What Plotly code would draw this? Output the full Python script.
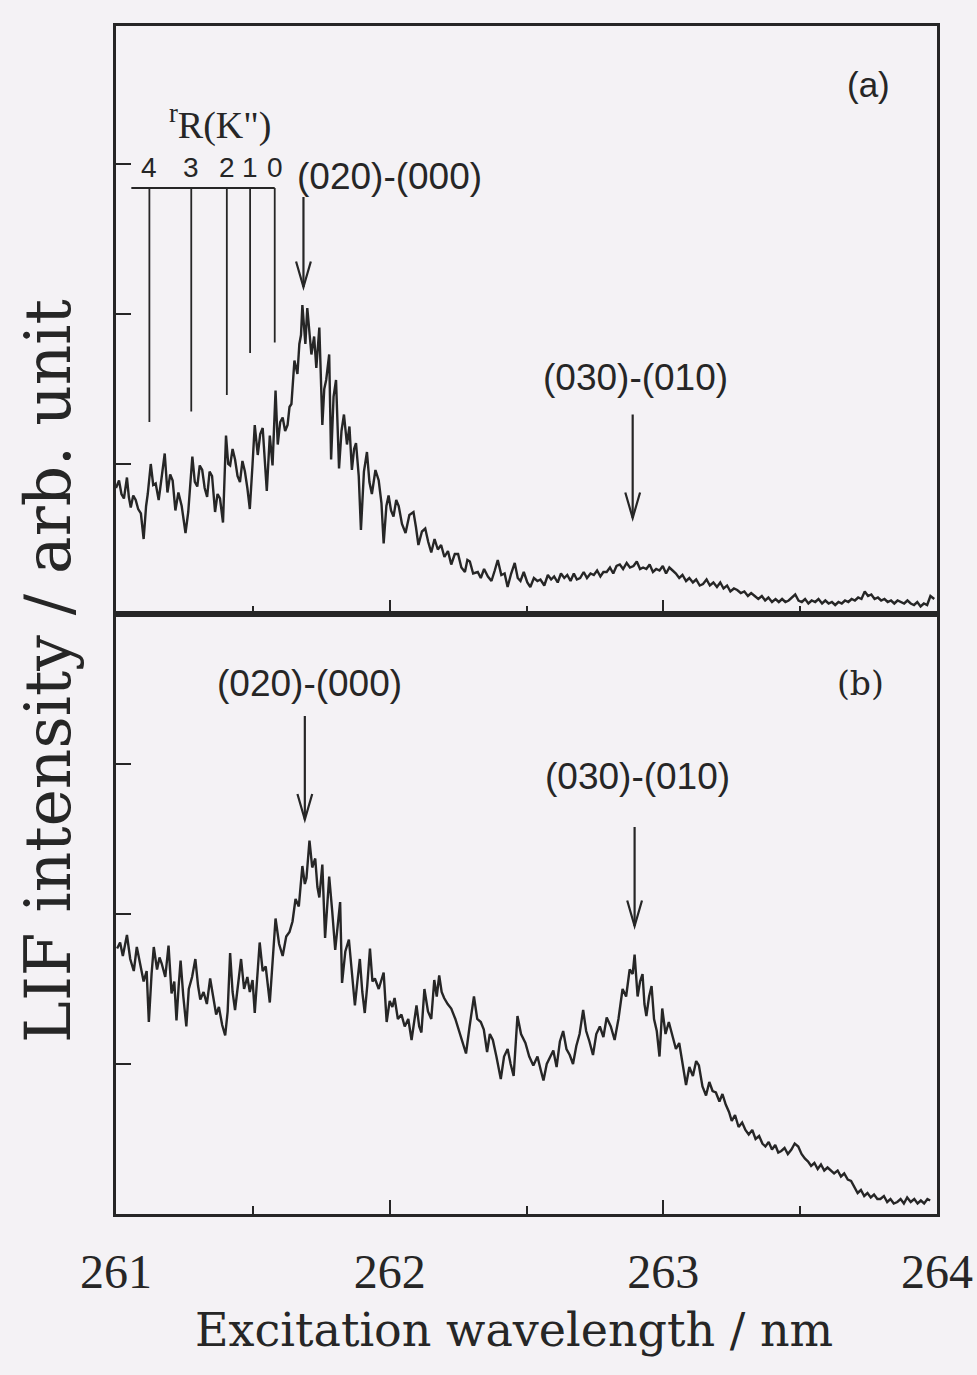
import plotly.graph_objects as go

# ---------------- data ----------------
# panel (a): wavelength (nm) and LIF intensity (arb. unit)
wl_a = [261.000, 261.011, 261.020, 261.029, 261.040, 261.047, 261.054, 261.063, 261.072, 261.081,
        261.091, 261.101, 261.110, 261.116, 261.127, 261.136, 261.145, 261.156, 261.166, 261.178,
        261.188, 261.198, 261.207, 261.217, 261.228, 261.240, 261.254, 261.264, 261.279, 261.288,
        261.297, 261.306, 261.315, 261.324, 261.333, 261.342, 261.351, 261.362, 261.371, 261.380,
        261.391, 261.402, 261.410, 261.417, 261.426, 261.435, 261.444, 261.453, 261.462, 261.471,
        261.480, 261.489, 261.499, 261.507, 261.518, 261.527, 261.536, 261.551, 261.562, 261.572,
        261.583, 261.591, 261.600, 261.609, 261.618, 261.627, 261.634, 261.641, 261.652, 261.663,
        261.670, 261.676, 261.681, 261.692, 261.699, 261.706, 261.714, 261.724, 261.732, 261.743,
        261.754, 261.761, 261.768, 261.779, 261.786, 261.795, 261.804, 261.815, 261.824, 261.833,
        261.844, 261.853, 261.862, 261.870, 261.877, 261.887, 261.895, 261.906, 261.917, 261.926,
        261.935, 261.948, 261.960, 261.970, 261.978, 261.988, 261.996, 262.005, 262.014, 262.024,
        262.033, 262.045, 262.058, 262.072, 262.087, 262.096, 262.105, 262.118, 262.130, 262.141,
        262.152, 262.164, 262.176, 262.188, 262.200, 262.213, 262.225, 262.238, 262.250, 262.262,
        262.275, 262.284, 262.293, 262.305, 262.322, 262.333, 262.345, 262.359, 262.372, 262.384,
        262.395, 262.408, 262.420, 262.431, 262.444, 262.457, 262.468, 262.478, 262.490, 262.503,
        262.514, 262.527, 262.540, 262.551, 262.565, 262.578, 262.590, 262.601, 262.614, 262.626,
        262.638, 262.649, 262.661, 262.673, 262.684, 262.696, 262.709, 262.721, 262.734, 262.746,
        262.758, 262.770, 262.781, 262.793, 262.805, 262.817, 262.829, 262.841, 262.853, 262.866,
        262.878, 262.891, 262.903, 262.915, 262.926, 262.938, 262.950, 262.962, 262.974, 262.986,
        262.998, 263.010, 263.022, 263.034, 263.046, 263.058, 263.070, 263.083, 263.095, 263.108,
        263.120, 263.133, 263.145, 263.158, 263.170, 263.183, 263.196, 263.208, 263.220, 263.233,
        263.245, 263.258, 263.270, 263.283, 263.296, 263.309, 263.321, 263.334, 263.347, 263.360,
        263.372, 263.384, 263.397, 263.410, 263.422, 263.434, 263.446, 263.458, 263.470, 263.482,
        263.494, 263.506, 263.518, 263.530, 263.542, 263.555, 263.567, 263.580, 263.592, 263.604,
        263.616, 263.628, 263.640, 263.652, 263.664, 263.676, 263.688, 263.700, 263.712, 263.724,
        263.736, 263.748, 263.760, 263.772, 263.784, 263.796, 263.808, 263.820, 263.832, 263.844,
        263.856, 263.868, 263.880, 263.892, 263.904, 263.916, 263.928, 263.940, 263.952, 263.964,
        263.976, 263.990]
int_a = [0.84, 0.89, 0.80, 0.77, 0.91, 0.78, 0.71, 0.79, 0.76, 0.70,
         0.67, 0.50, 0.72, 0.80, 1.00, 0.86, 0.87, 0.76, 0.90, 1.07,
         0.81, 0.93, 0.89, 0.69, 0.81, 0.72, 0.54, 0.68, 1.05, 0.88,
         0.85, 0.99, 0.96, 0.84, 0.78, 0.95, 0.92, 0.68, 0.80, 0.77,
         0.61, 1.19, 1.00, 0.99, 1.10, 1.03, 0.92, 0.88, 1.02, 0.95,
         0.84, 0.70, 1.00, 1.26, 1.06, 1.20, 1.24, 0.82, 1.19, 0.99,
         1.49, 1.13, 1.28, 1.31, 1.22, 1.26, 1.38, 1.40, 1.69, 1.60,
         1.80, 1.86, 2.06, 1.80, 2.04, 1.88, 1.73, 1.85, 1.64, 1.91,
         1.26, 1.50, 1.56, 1.73, 1.03, 1.45, 1.56, 0.97, 1.22, 1.33,
         1.13, 1.25, 0.96, 1.10, 1.14, 0.92, 0.56, 0.95, 1.08, 0.88,
         0.80, 0.96, 0.89, 0.74, 0.47, 0.72, 0.79, 0.69, 0.65, 0.76,
         0.72, 0.60, 0.54, 0.66, 0.68, 0.58, 0.46, 0.55, 0.57, 0.48,
         0.41, 0.50, 0.43, 0.46, 0.38, 0.42, 0.33, 0.40, 0.40, 0.31,
         0.28, 0.36, 0.35, 0.27, 0.28, 0.24, 0.30, 0.25, 0.22, 0.29,
         0.36, 0.26, 0.27, 0.18, 0.27, 0.34, 0.24, 0.22, 0.28, 0.21,
         0.18, 0.24, 0.22, 0.23, 0.19, 0.26, 0.23, 0.25, 0.21, 0.27,
         0.24, 0.26, 0.22, 0.27, 0.23, 0.24, 0.28, 0.24, 0.27, 0.26,
         0.29, 0.25, 0.28, 0.28, 0.31, 0.27, 0.32, 0.33, 0.30, 0.34,
         0.31, 0.32, 0.35, 0.30, 0.31, 0.30, 0.33, 0.28, 0.30, 0.29,
         0.32, 0.27, 0.31, 0.29, 0.27, 0.24, 0.26, 0.22, 0.24, 0.21,
         0.23, 0.19, 0.20, 0.23, 0.19, 0.21, 0.18, 0.21, 0.17, 0.19,
         0.15, 0.17, 0.16, 0.14, 0.15, 0.12, 0.14, 0.12, 0.10, 0.12,
         0.09, 0.11, 0.08, 0.10, 0.08, 0.10, 0.08, 0.09, 0.11, 0.13,
         0.09, 0.08, 0.10, 0.07, 0.09, 0.08, 0.10, 0.07, 0.09, 0.07,
         0.08, 0.06, 0.08, 0.07, 0.09, 0.08, 0.10, 0.09, 0.11, 0.10,
         0.15, 0.12, 0.13, 0.10, 0.11, 0.09, 0.10, 0.08, 0.09, 0.07,
         0.09, 0.08, 0.07, 0.09, 0.07, 0.06, 0.08, 0.05, 0.07, 0.06,
         0.12, 0.10]

# panel (b)
wl_b = [261.004, 261.015, 261.025, 261.040, 261.052, 261.065, 261.076, 261.088, 261.101, 261.112,
        261.120, 261.130, 261.138, 261.150, 261.159, 261.167, 261.180, 261.192, 261.203, 261.213,
        261.221, 261.229, 261.236, 261.246, 261.257, 261.266, 261.278, 261.290, 261.300, 261.308,
        261.320, 261.332, 261.344, 261.355, 261.366, 261.376, 261.388, 261.399, 261.408, 261.417,
        261.426, 261.435, 261.446, 261.457, 261.468, 261.480, 261.489, 261.499, 261.507, 261.516,
        261.525, 261.536, 261.547, 261.562, 261.572, 261.583, 261.596, 261.609, 261.622, 261.634,
        261.645, 261.656, 261.668, 261.681, 261.690, 261.696, 261.707, 261.717, 261.728, 261.736,
        261.743, 261.754, 261.764, 261.772, 261.779, 261.790, 261.801, 261.810, 261.819, 261.826,
        261.838, 261.851, 261.862, 261.873, 261.882, 261.891, 261.900, 261.909, 261.918, 261.928,
        261.937, 261.946, 261.960, 261.978, 261.989, 262.000, 262.010, 262.018, 262.030, 262.043,
        262.055, 262.068, 262.080, 262.090, 262.098, 262.108, 262.116, 262.127, 262.140, 262.152,
        262.163, 262.172, 262.181, 262.190, 262.199, 262.212, 262.225, 262.240, 262.254, 262.266,
        262.279, 262.292, 262.308, 262.320, 262.333, 262.344, 262.356, 262.366, 262.377, 262.390,
        262.406, 262.418, 262.431, 262.442, 262.453, 262.467, 262.480, 262.496, 262.510, 262.525,
        262.540, 262.552, 262.562, 262.574, 262.586, 262.598, 262.610, 262.622, 262.634, 262.646,
        262.658, 262.670, 262.682, 262.694, 262.707, 262.718, 262.730, 262.743, 262.755, 262.768,
        262.781, 262.793, 262.808, 262.822, 262.836, 262.851, 262.864, 262.877, 262.888, 262.895,
        262.906, 262.915, 262.924, 262.931, 262.938, 262.948, 262.957, 262.966, 262.976, 262.986,
        262.996, 263.008, 263.020, 263.033, 263.046, 263.058, 263.069, 263.083, 263.095, 263.108,
        263.120, 263.130, 263.143, 263.156, 263.168, 263.180, 263.192, 263.205, 263.216, 263.228,
        263.240, 263.250, 263.262, 263.275, 263.288, 263.300, 263.312, 263.325, 263.337, 263.350,
        263.362, 263.373, 263.385, 263.397, 263.409, 263.420, 263.431, 263.443, 263.455, 263.468,
        263.480, 263.493, 263.505, 263.517, 263.529, 263.540, 263.552, 263.564, 263.576, 263.588,
        263.600, 263.612, 263.624, 263.637, 263.649, 263.661, 263.674, 263.686, 263.698, 263.710,
        263.722, 263.734, 263.746, 263.758, 263.770, 263.782, 263.793, 263.806, 263.818, 263.830,
        263.842, 263.855, 263.867, 263.879, 263.891, 263.904, 263.917, 263.929, 263.941, 263.953,
        263.965, 263.975]
int_b = [1.77, 1.81, 1.72, 1.86, 1.70, 1.62, 1.78, 1.66, 1.55, 1.62,
         1.28, 1.60, 1.78, 1.63, 1.71, 1.67, 1.58, 1.79, 1.47, 1.55,
         1.29, 1.52, 1.69, 1.45, 1.25, 1.50, 1.58, 1.70, 1.52, 1.43,
         1.48, 1.40, 1.57, 1.45, 1.33, 1.38, 1.26, 1.19, 1.35, 1.74,
         1.48, 1.36, 1.52, 1.70, 1.50, 1.58, 1.48, 1.56, 1.34, 1.60,
         1.81, 1.62, 1.65, 1.41, 1.70, 1.97, 1.80, 1.72, 1.85, 1.88,
         1.95, 2.10, 2.05, 2.32, 2.20, 2.24, 2.49, 2.31, 2.37, 2.18,
         2.11, 2.33, 1.84, 2.05, 2.25, 2.02, 1.76, 1.92, 2.08, 1.54,
         1.75, 1.83, 1.60, 1.39, 1.55, 1.70, 1.48, 1.34, 1.52, 1.77,
         1.55, 1.57, 1.50, 1.61, 1.28, 1.42, 1.38, 1.44, 1.30, 1.33,
         1.25, 1.30, 1.16, 1.28, 1.39, 1.25, 1.21, 1.50, 1.35, 1.30,
         1.56, 1.45, 1.59, 1.48, 1.44, 1.40, 1.37, 1.30, 1.22, 1.15,
         1.07, 1.25, 1.45, 1.30, 1.28, 1.23, 1.08, 1.20, 1.16, 1.05,
         0.90, 1.05, 1.10, 1.00, 0.92, 1.32, 1.20, 1.14, 1.05, 0.99,
         1.05, 0.96, 0.89, 1.00, 1.05, 1.09, 0.98, 1.15, 1.22, 1.10,
         1.06, 1.00, 1.12, 1.20, 1.36, 1.22, 1.15, 1.06, 1.20, 1.25,
         1.18, 1.31, 1.25, 1.16, 1.30, 1.50, 1.45, 1.63, 1.60, 1.73,
         1.45, 1.55, 1.60, 1.40, 1.32, 1.45, 1.52, 1.30, 1.22, 1.05,
         1.37, 1.20, 1.28, 1.19, 1.10, 1.14, 1.01, 0.86, 0.98, 0.92,
         1.02, 0.99, 0.85, 0.79, 0.88, 0.82, 0.81, 0.75, 0.80, 0.73,
         0.68, 0.62, 0.66, 0.58, 0.61, 0.56, 0.53, 0.56, 0.50, 0.52,
         0.47, 0.45, 0.48, 0.43, 0.46, 0.41, 0.42, 0.44, 0.40, 0.43,
         0.47, 0.45, 0.40, 0.37, 0.35, 0.32, 0.34, 0.30, 0.33, 0.29,
         0.31, 0.29, 0.27, 0.29, 0.25, 0.27, 0.23, 0.22, 0.18, 0.14,
         0.16, 0.12, 0.14, 0.11, 0.13, 0.10, 0.10, 0.12, 0.08, 0.10,
         0.07, 0.08, 0.10, 0.07, 0.11, 0.08, 0.10, 0.07, 0.09, 0.07,
         0.10, 0.09]

# rR(K'') comb (panel a)
rR_labels = ["4", "3", "2", "1", "0"]
rR_pos = [261.122, 261.275, 261.405, 261.490, 261.580]
rR_bottom = [1.28, 1.35, 1.46, 1.74, 1.81]
rR_top = 2.84
rR_left = 261.056
rR_label_y = 2.98

# band assignments: (text, text x, text y, arrow x, arrow top, arrow tip)
bands_a = [("(020)-(000)", 262.00, 2.92, 261.685, 2.78, 2.18),
           ("(030)-(010)", 262.90, 1.58, 262.888, 1.33, 0.64)]
bands_b = [("(020)-(000)", 261.706, 3.54, 261.69, 3.32, 2.63),
           ("(030)-(010)", 262.907, 2.92, 262.895, 2.58, 1.92)]

x_ticks = [261, 262, 263, 264]
y_ticks = [1, 2, 3]

# ---------------- figure ----------------
INK = "#262626"
BG = "#f4f2f5"

fig = go.Figure()
fig.add_trace(go.Scatter(x=wl_a, y=int_a, xaxis="x2", yaxis="y2", mode="lines",
                         line=dict(color=INK, width=2.4), showlegend=False, hoverinfo="skip"))
fig.add_trace(go.Scatter(x=wl_b, y=int_b, xaxis="x", yaxis="y", mode="lines",
                         line=dict(color=INK, width=2.4), showlegend=False, hoverinfo="skip"))

# comb lines
cx, cy = [rR_left, rR_pos[-1], None], [rR_top, rR_top, None]
for p, b in zip(rR_pos, rR_bottom):
    cx += [p, p, None]
    cy += [rR_top, b, None]
fig.add_trace(go.Scatter(x=cx, y=cy, xaxis="x2", yaxis="y2", mode="lines",
                         line=dict(color=INK, width=1.8), showlegend=False, hoverinfo="skip"))

annotations = []
shapes = []
head_dx = 0.027
head_dy = 0.17
lab_font = dict(family="Liberation Sans, Arial, sans-serif", size=37, color=INK)
for bands, xr, yr in [(bands_a, "x2", "y2"), (bands_b, "x", "y")]:
    for text, tx, ty, axx, atop, atip in bands:
        annotations.append(dict(text=text, x=tx, y=ty, xref=xr, yref=yr, showarrow=False,
                                font=lab_font, xanchor="center", yanchor="middle"))
        shapes.append(dict(type="line", xref=xr, yref=yr, x0=axx, x1=axx, y0=atop, y1=atip,
                           line=dict(color=INK, width=2.2)))
        shapes.append(dict(type="path", xref=xr, yref=yr,
                           path=f"M {axx - head_dx},{atip + head_dy} L {axx},{atip} L {axx + head_dx},{atip + head_dy}",
                           line=dict(color=INK, width=2.2)))

for lab, p in zip(rR_labels, rR_pos):
    annotations.append(dict(text=lab, x=p, y=rR_label_y, xref="x2", yref="y2", showarrow=False,
                            font=dict(family="Liberation Sans, Arial, sans-serif", size=28, color=INK),
                            xanchor="center", yanchor="middle"))
annotations.append(dict(text="<sup>r</sup>R(K\")", x=261.38, y=3.28, xref="x2", yref="y2", showarrow=False,
                        font=dict(family="Liberation Serif, Times New Roman, serif", size=38, color=INK),
                        xanchor="center", yanchor="middle"))
annotations.append(dict(text="(a)", x=263.75, y=3.53, xref="x2", yref="y2", showarrow=False,
                        font=dict(family="Liberation Sans, Arial, sans-serif", size=35, color=INK),
                        xanchor="center", yanchor="middle"))
annotations.append(dict(text="(b)", x=263.72, y=3.54, xref="x", yref="y", showarrow=False,
                        font=dict(family="DejaVu Serif, serif", size=33, color=INK),
                        xanchor="center", yanchor="middle"))
# axis titles
annotations.append(dict(text="Excitation wavelength / nm", x=0.485, y=-0.098, xref="paper", yref="paper",
                        showarrow=False, xanchor="center", yanchor="middle",
                        font=dict(family="DejaVu Serif, serif", size=46, color=INK)))
annotations.append(dict(text="LIF intensity / arb. unit", x=-0.083, y=0.457, xref="paper", yref="paper",
                        showarrow=False, xanchor="center", yanchor="middle", textangle=-90,
                        font=dict(family="DejaVu Serif, serif", size=63, color=INK)))

split = 600 / 1188
xcommon = dict(range=[261, 264], showgrid=False, zeroline=False, showline=True, linecolor=INK,
               linewidth=2.5, mirror=True, ticks="inside", ticklen=14, tickwidth=2, tickcolor=INK,
               tickvals=x_ticks, automargin=False,
               minor=dict(dtick=0.5, tick0=261, ticks="inside", ticklen=8, tickwidth=2, tickcolor=INK))
ycommon = dict(showgrid=False, zeroline=False, showline=True, linecolor=INK, linewidth=2.5, mirror=True,
               ticks="inside", ticklen=15, tickwidth=2, tickcolor=INK, tickvals=y_ticks,
               showticklabels=False, automargin=False)

fig.update_layout(
    width=977, height=1375,
    margin=dict(l=116, r=40, t=26, b=161, autoexpand=False),
    paper_bgcolor=BG, plot_bgcolor=BG,
    showlegend=False,
    xaxis=dict(domain=[0, 1], anchor="y", showticklabels=True, ticklabelstandoff=14,
               ticklabeloverflow="allow",
               tickfont=dict(family="Liberation Serif, Times New Roman, serif", size=48, color=INK),
               **xcommon),
    xaxis2=dict(domain=[0, 1], anchor="y2", matches="x", showticklabels=False, **xcommon),
    yaxis=dict(domain=[0, split], range=[0, 4.0], anchor="x", **ycommon),
    yaxis2=dict(domain=[split, 1], range=[0, 3.92], anchor="x2", **ycommon),
    annotations=annotations,
    shapes=shapes,
)

fig.write_html("out.html")
